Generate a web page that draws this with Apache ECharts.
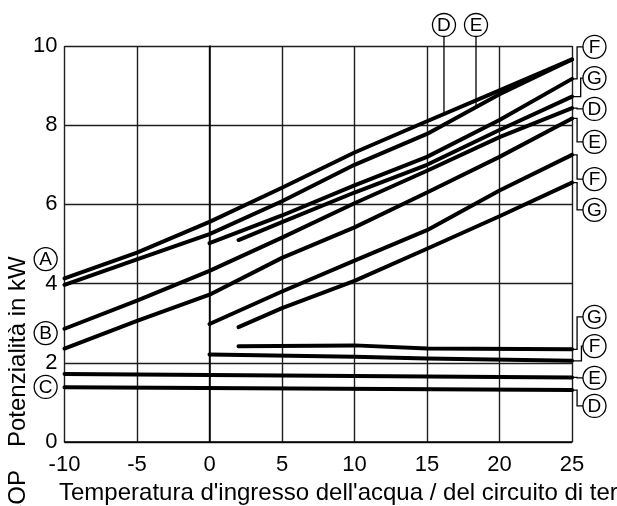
<!DOCTYPE html>
<html>
<head>
<meta charset="utf-8">
<script src="https://cdn.jsdelivr.net/npm/echarts/dist/echarts.min.js"></script>
<style>
  html, body { margin: 0; padding: 0; background: #fff; }
  #chart { width: 617px; height: 506px; }
</style>
</head>
<body>
<div id="chart"></div>
<script>
// Inlet temperatures (°C) at which each curve is sampled
const tempsFull = [-10, -5, 0, 5, 10, 15, 20, 25];
const tempsFrom0 = [0, 5, 10, 15, 20, 25];
const tempsFrom2 = [2, 5, 10, 15, 20, 25];
const tempsFlat0 = [0, 10, 15, 25];
const tempsFlat2 = [2, 10, 15, 25];
const tempsEnds = [-10, 25];

// Heating capacity (kW), model A
const capA_D = [4.13, 4.78, 5.56, 6.42, 7.31, 8.10, 8.88, 9.66];
const capA_E = [3.97, 4.61, 5.25, 6.08, 7.00, 7.78, 8.78, 9.66];
const capA_F = [5.02, 5.72, 6.48, 7.20, 8.13, 9.17];
const capA_G = [5.10, 5.55, 6.30, 7.00, 7.88, 8.72];

// Heating capacity (kW), model B
const capB_D = [2.86, 3.57, 4.32, 5.16, 6.03, 6.85, 7.70, 8.43];
const capB_E = [2.36, 3.06, 3.72, 4.65, 5.42, 6.30, 7.20, 8.17];
const capB_F = [2.98, 3.80, 4.58, 5.35, 6.35, 7.25];
const capB_G = [2.90, 3.38, 4.07, 4.88, 5.70, 6.55];

// Curves of group C
const capC_G = [2.42, 2.44, 2.36, 2.34];
const capC_F = [2.21, 2.15, 2.11, 2.05];
const capC_E = [1.72, 1.63];
const capC_D = [1.38, 1.31];

// Axis ticks
const xTicks = { min: -10, max: 25, step: 5 };
const yTicks = { min: 0, max: 10, step: 2 };

// Tag letters
const leftTags = ['A', 'B', 'C'];
const leftTagY = [4.62, 2.75, 1.39];
const topTags = ['D', 'E'];
const topTagX = [16.17, 18.38];
const rightTags = ['F', 'G', 'D', 'E', 'F', 'G', 'G', 'F', 'E', 'D'];
const rightTagY = [9.98, 9.19, 8.41, 7.58, 6.64, 5.86, 3.16, 2.42, 1.62, 0.91];

const FONT = '"Liberation Sans", Arial, sans-serif';

const curves = [
  { name: 'A-D', x: tempsFull, y: capA_D },
  { name: 'A-E', x: tempsFull, y: capA_E },
  { name: 'A-F', x: tempsFrom0, y: capA_F },
  { name: 'A-G', x: tempsFrom2, y: capA_G },
  { name: 'B-D', x: tempsFull, y: capB_D },
  { name: 'B-E', x: tempsFull, y: capB_E },
  { name: 'B-F', x: tempsFrom0, y: capB_F },
  { name: 'B-G', x: tempsFrom2, y: capB_G },
  { name: 'C-G', x: tempsFlat2, y: capC_G },
  { name: 'C-F', x: tempsFlat0, y: capC_F },
  { name: 'C-E', x: tempsEnds, y: capC_E },
  { name: 'C-D', x: tempsEnds, y: capC_D }
];

// which curve each right-hand tag points to, and where its leader bends
const rightTagCurve = ['A-F', 'A-G', 'B-D', 'B-E', 'B-F', 'B-G', 'C-G', 'C-F', 'C-E', 'C-D'];
const rightTagElbow = [25.35, 25.6, 25.35, 25.35, 25.35, 25.35, 25.35, 25.65, 25.35, 25.35];
const topTagCurve = ['A-D', 'A-E'];

const chart = echarts.init(document.getElementById('chart'), null, { renderer: 'canvas' });

const axisText = { fontSize: 22, color: '#000', fontFamily: FONT };
const gridLine = { show: true, lineStyle: { color: '#1e1e1e', width: 1.4 } };

chart.setOption({
  animation: false,
  backgroundColor: '#fff',
  grid: { left: 64.5, right: 45, top: 46, bottom: 64 },
  xAxis: {
    type: 'value', min: xTicks.min, max: xTicks.max, interval: xTicks.step,
    axisLine: { show: true, onZero: false, lineStyle: { color: '#000', width: 1.5 } },
    axisTick: { show: false },
    axisLabel: Object.assign({ margin: 12 }, axisText),
    splitLine: gridLine
  },
  yAxis: {
    type: 'value', min: yTicks.min, max: yTicks.max, interval: yTicks.step,
    axisLine: { show: true, lineStyle: { color: '#000', width: 1.5 } },
    axisTick: { show: false },
    axisLabel: Object.assign({ margin: 7 }, axisText),
    splitLine: gridLine
  },
  series: curves.map(c => ({
    name: c.name,
    type: 'line',
    data: c.x.map((t, i) => [t, c.y[i]]),
    symbol: 'none',
    silent: true,
    z: 3,
    lineStyle: { color: '#000', width: 4, cap: 'round', join: 'round' }
  }))
});

function byName(n) { return curves.find(c => c.name === n); }
function valueAt(c, t) {
  for (let i = 0; i < c.x.length - 1; i++) {
    if (t >= c.x[i] && t <= c.x[i + 1]) {
      const f = (t - c.x[i]) / (c.x[i + 1] - c.x[i]);
      return c.y[i] + f * (c.y[i + 1] - c.y[i]);
    }
  }
  return c.y[c.y.length - 1];
}
const px = p => chart.convertToPixel({ gridIndex: 0 }, p);

const R = 11.5;
const gfx = [];
function tag(letter, cx, cy) {
  gfx.push({
    type: 'circle', shape: { cx: cx, cy: cy, r: R },
    style: { fill: '#fff', stroke: '#000', lineWidth: 1.3 }, z: 10
  });
  gfx.push({
    type: 'text', x: cx, y: cy + 0.5, z: 11,
    style: {
      text: letter, font: '19px ' + FONT, fill: '#000',
      textAlign: 'center', textVerticalAlign: 'middle', align: 'center', verticalAlign: 'middle'
    }
  });
}
function leader(points) {
  gfx.push({
    type: 'polyline', shape: { points: points }, z: 9,
    style: { stroke: '#000', lineWidth: 1.3, fill: null }
  });
}

// left-hand model tags
leftTags.forEach((l, i) => {
  const p = px([-11.3, leftTagY[i]]);
  tag(l, p[0], p[1]);
});

// right-hand tags with leaders from the curve ends
const tagCenterX = px([26.55, 0])[0];
rightTags.forEach((l, i) => {
  const c = byName(rightTagCurve[i]);
  const end = px([c.x[c.x.length - 1], c.y[c.y.length - 1]]);
  const tagPos = px([26.55, rightTagY[i]]);
  const elbowX = px([rightTagElbow[i], 0])[0];
  leader([[end[0], end[1]], [elbowX, end[1]], [elbowX, tagPos[1]], [tagCenterX - R, tagPos[1]]]);
  tag(l, tagCenterX, tagPos[1]);
});

// tags above the plot pointing down to the upper curves
topTags.forEach((l, i) => {
  const c = byName(topTagCurve[i]);
  const onLine = px([topTagX[i], valueAt(c, topTagX[i])]);
  const top = px([topTagX[i], 10.53]);
  leader([[onLine[0], onLine[1]], [onLine[0], top[1] + R]]);
  tag(l, top[0], top[1]);
});

// axis titles
gfx.push({
  type: 'text', x: 18, y: 447, rotation: Math.PI / 2, z: 5,
  style: { text: 'Potenzialità in kW', font: '24px ' + FONT, fill: '#000',
    textAlign: 'left', textVerticalAlign: 'middle', align: 'left', verticalAlign: 'middle' }
});
gfx.push({
  type: 'text', x: 18, y: 522, rotation: Math.PI / 2, z: 5,
  style: { text: 'COP', font: '24px ' + FONT, fill: '#000',
    textAlign: 'left', textVerticalAlign: 'middle', align: 'left', verticalAlign: 'middle' }
});
gfx.push({
  type: 'text', x: 59, y: 493, z: 5,
  style: { text: "Temperatura d'ingresso dell'acqua / del circuito di terra in °C", font: '24px ' + FONT, fill: '#000',
    textAlign: 'left', textVerticalAlign: 'middle', align: 'left', verticalAlign: 'middle' }
});

chart.setOption({ graphic: { elements: gfx } });
</script>
</body>
</html>
